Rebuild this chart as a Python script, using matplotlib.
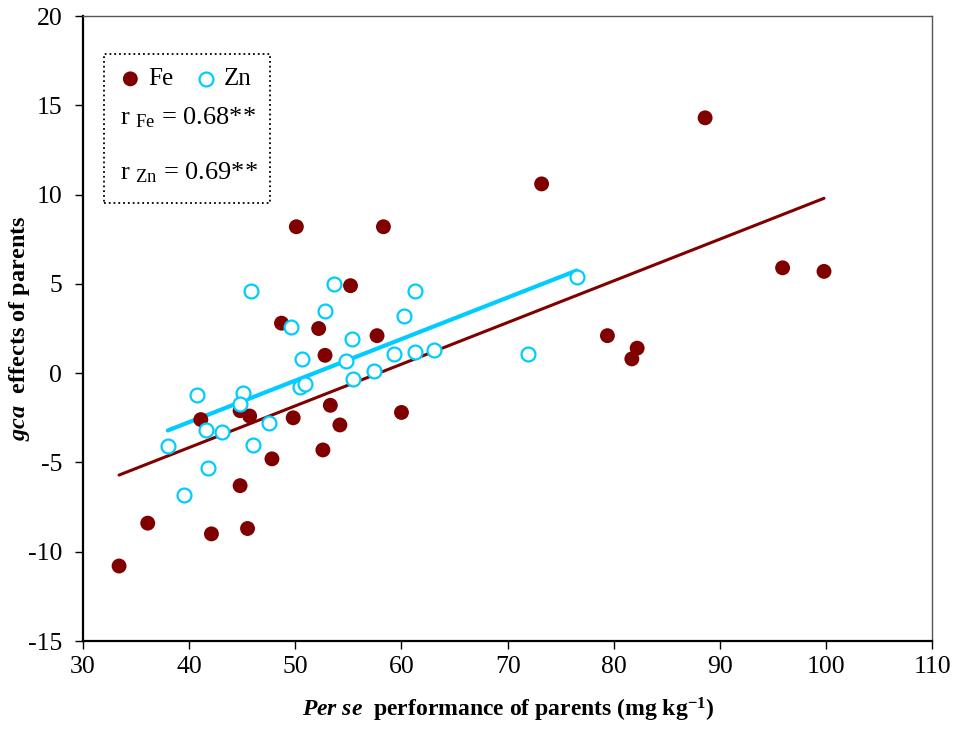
import matplotlib.pyplot as plt
import numpy as np
from matplotlib.patches import Rectangle

plt.rcParams['font.family'] = ['Liberation Serif', 'DejaVu Serif']
plt.rcParams['mathtext.fontset'] = 'custom'
plt.rcParams['mathtext.rm'] = 'Liberation Serif'
plt.rcParams['mathtext.it'] = 'Liberation Serif:italic'
plt.rcParams['mathtext.bf'] = 'Liberation Serif:bold'
plt.rcParams['mathtext.bfit'] = 'Liberation Serif:italic:bold'
plt.rcParams['axes.unicode_minus'] = False

# per se performance (x) and gca effects (y) of parents
fe_x = [33.4, 36.1, 42.1, 45.5, 44.8, 47.8, 52.6, 54.2, 53.3, 60.0,
        49.8, 45.7, 44.8, 41.1, 52.8, 52.2, 57.7, 48.7, 50.1, 58.3,
        55.2, 73.2, 88.6, 95.9, 99.8, 79.4, 82.2, 81.7]
fe_y = [-10.8, -8.4, -9.0, -8.7, -6.3, -4.8, -4.3, -2.9, -1.8, -2.2,
        -2.5, -2.4, -2.1, -2.6, 1.0, 2.5, 2.1, 2.8, 8.2, 8.2,
        4.9, 10.6, 14.3, 5.9, 5.7, 2.1, 1.4, 0.8]

zn_x = [38.0, 39.5, 41.8, 41.6, 43.1, 40.7, 45.1, 44.8, 46.0, 47.5,
        49.6, 50.6, 50.4, 50.9, 52.8, 55.3, 54.8, 55.4, 57.4, 59.3,
        60.2, 61.3, 63.1, 45.8, 53.6, 61.3, 76.5, 71.9]
zn_y = [-4.1, -6.8, -5.3, -3.2, -3.3, -1.2, -1.1, -1.7, -4.0, -2.8,
        2.6, 0.8, -0.8, -0.6, 3.5, 1.9, 0.7, -0.3, 0.1, 1.1,
        3.2, 1.2, 1.3, 4.6, 5.0, 4.6, 5.4, 1.1]

r_fe = 0.68
r_zn = 0.69

fe_color = '#800000'
zn_color = '#00CCFF'

fig = plt.figure(figsize=(9.56, 7.29), dpi=100)
ax = fig.add_axes([0.0868, 0.1207, 0.8884, 0.8573])

# least-squares trend lines over each series' range
for xs, ys, c, lw in [(fe_x, fe_y, fe_color, 2.2), (zn_x, zn_y, zn_color, 3.0)]:
    xs = np.array(xs)
    k, b = np.polyfit(xs, ys, 1)
    xx = np.array([xs.min(), xs.max()])
    ax.plot(xx, k * xx + b, color=c, lw=lw, solid_capstyle='round', zorder=2)

ax.scatter(fe_x, fe_y, s=115, color=fe_color, edgecolors='none', zorder=3, label='Fe')
ax.scatter(zn_x, zn_y, s=100, facecolors='white', edgecolors=zn_color,
           linewidths=1.6, zorder=4, label='Zn')

ax.set_xlim(30, 110)
ax.set_ylim(-15, 20)
ax.set_xticks(np.arange(30, 111, 10))
ax.set_yticks(np.arange(-15, 21, 5))
ax.tick_params(direction='out', length=6, width=1, labelsize=18.5)
ax.tick_params(axis='y', pad=9)
ax.tick_params(axis='x', pad=5)
for side in ['left', 'bottom']:
    ax.spines[side].set_linewidth(1.6)
for side in ['top', 'right']:
    ax.spines[side].set_linewidth(1.0)
    ax.spines[side].set_color('#555555')

ax.set_xlabel(r'$\mathbfit{Per\ se}$  performance of parents (mg kg$^{\mathbf{-1}}$)',
              fontsize=17, fontweight='bold')
ax.set_ylabel(r'$\mathbfit{gca}$  effects of parents', fontsize=17.5, fontweight='bold')
ax.xaxis.set_label_coords(0.5, -0.088)
ax.yaxis.set_label_coords(-0.06, 0.5)

# dotted box holding the legend and correlation coefficients
ax.add_patch(Rectangle((0.0247, 0.701), 0.1955, 0.238, transform=ax.transAxes,
                       fill=False, ls=':', lw=1.3, ec='black', zorder=5))
ax.legend(loc='upper left', bbox_to_anchor=(0.044, 0.917), ncol=2, frameon=False,
          fontsize=18, handlelength=0.8, handletextpad=0.3, columnspacing=0.92,
          borderpad=0, borderaxespad=0)
ax.text(0.0436, 0.838, r'r $_{\mathrm{Fe}}$ = %.2f**' % r_fe, transform=ax.transAxes,
        fontsize=19, va='center', ha='left')
ax.text(0.0436, 0.749, r'r $_{\mathrm{Zn}}$ = %.2f**' % r_zn, transform=ax.transAxes,
        fontsize=19, va='center', ha='left')

fig.savefig('out.png', dpi=100)
